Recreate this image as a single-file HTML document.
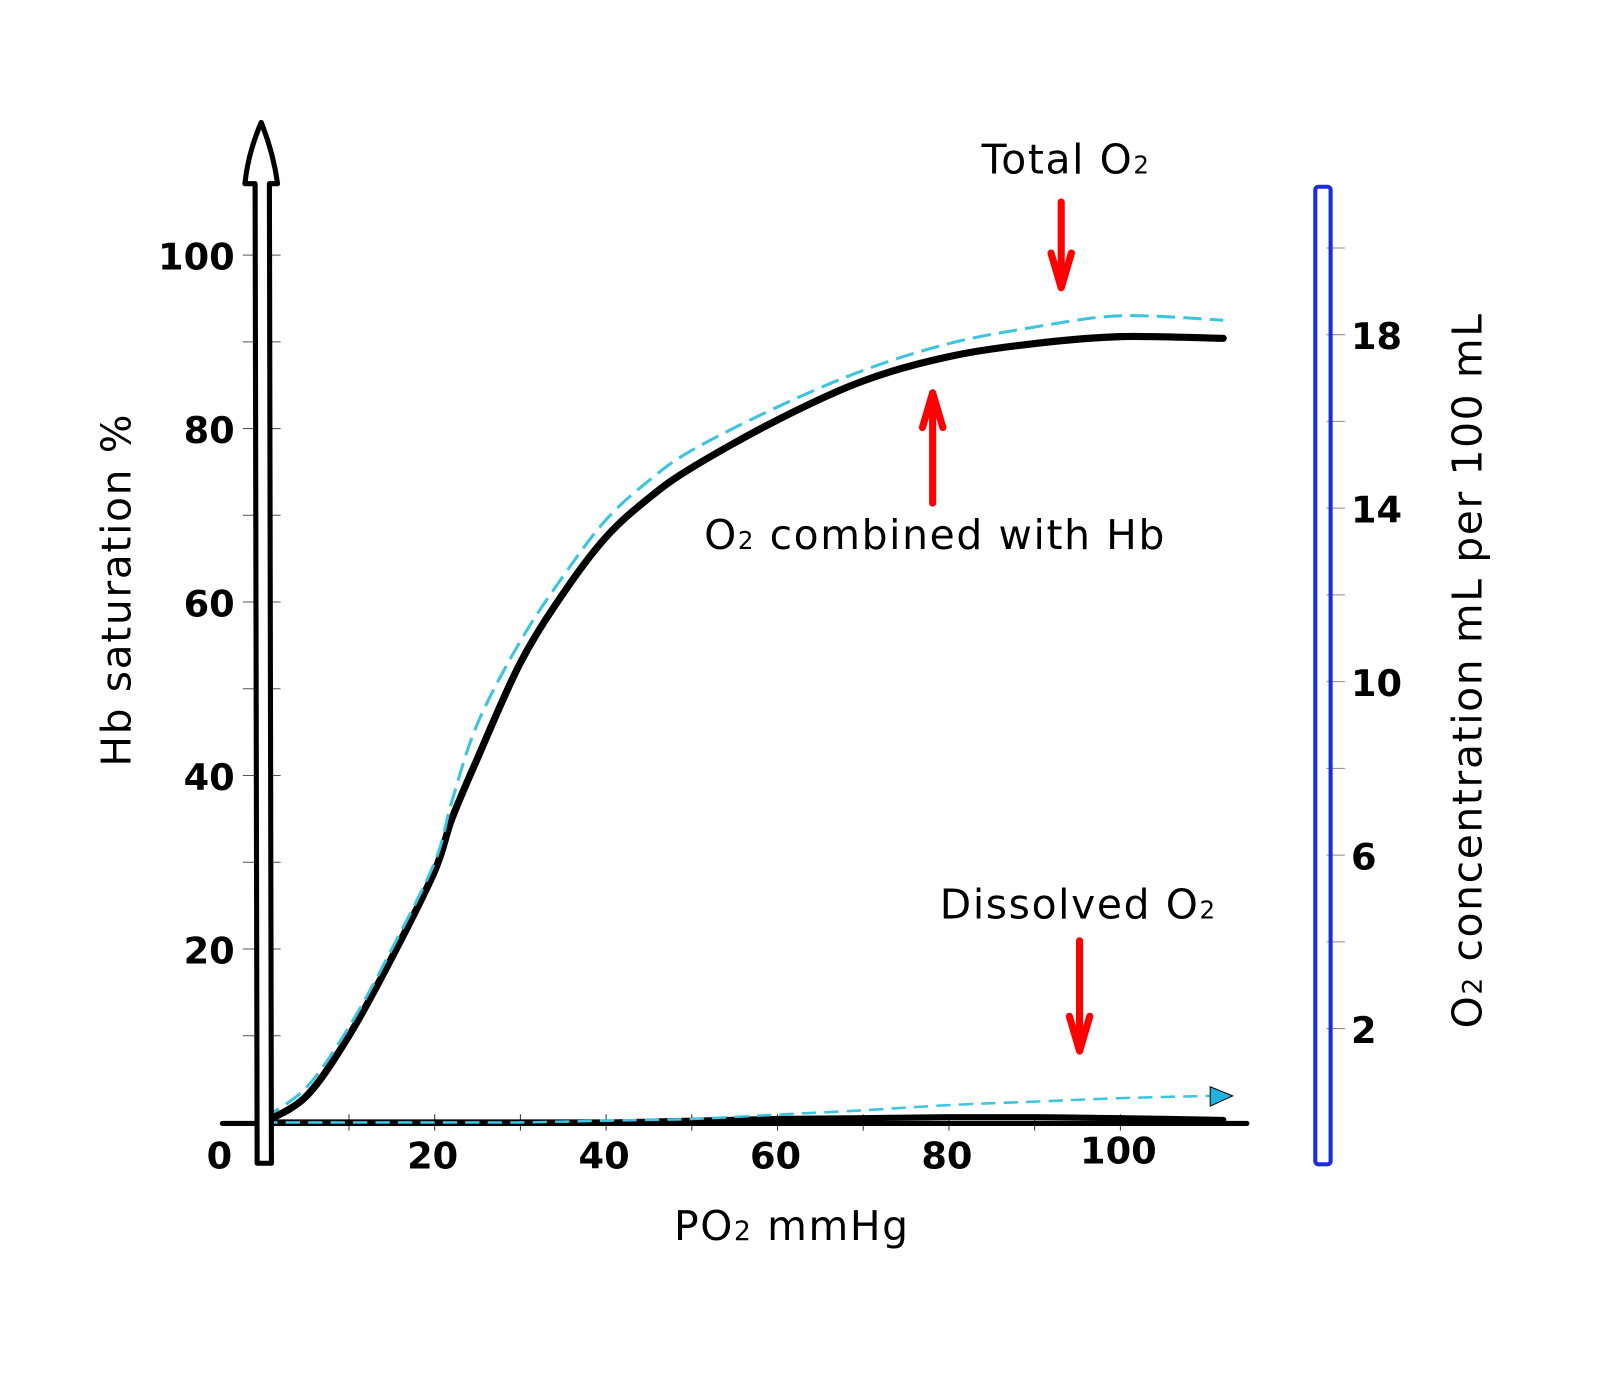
<!DOCTYPE html>
<html><head><meta charset="utf-8"><style>
html,body{margin:0;padding:0;background:#fff;}
svg text{font-family:"DejaVu Sans","Liberation Sans",sans-serif;}
.lbl{letter-spacing:1.6px;}
</style></head><body>
<script>
const po2 = [0,5,10,15,20,22,25,30,35,40,45,50,60,70,80,90,100,112];
const hbSat = [0,3,10,19,29,35,42,53,61,67.5,72,75.5,81,85.5,88.3,89.8,90.6,90.4];
const totalSat = [0.5,4,11,20,30,37,46,55.5,63,69.5,74,77.5,82.5,86.7,89.8,91.7,93,92.5];
const dissolved = [0,0,0,0,0,0,0,0,0,0,0.1,0.2,0.4,0.5,0.6,0.6,0.5,0.3];
const dissolvedTotal = [0,0,0,0,0,0,0,0,0.1,0.2,0.3,0.4,0.9,1.4,2,2.4,2.8,3.1];
const xTicks = [0,20,40,60,80,100];
const yTicks = [20,40,60,80,100];
const rTicks = [2,6,10,14,18];
</script>
<svg width="1600" height="1377" viewBox="0 0 1600 1377" xmlns="http://www.w3.org/2000/svg">
<g transform="scale(1.0204)">
<g id="g"></g>
<text class="lbl" x="962" y="170" font-size="40">Total O<tspan font-size="24">2</tspan></text>
<text class="lbl" x="690" y="538" font-size="40">O<tspan font-size="24">2</tspan> combined with Hb</text>
<text class="lbl" x="921" y="900" font-size="40">Dissolved O<tspan font-size="24">2</tspan></text>
<text class="lbl" x="776" y="1215" font-size="40" text-anchor="middle">PO<tspan font-size="26">2</tspan> mmHg</text>
<text class="lbl" transform="translate(128,578) rotate(-90)" font-size="40" text-anchor="middle">Hb saturation %</text>
<text class="lbl" transform="translate(1452,657) rotate(-90)" font-size="40" text-anchor="middle">O<tspan font-size="26">2</tspan> concentration mL per 100 mL</text>
</g>
</svg>
<script>
const NS='http://www.w3.org/2000/svg';
const g=document.getElementById('g');
const X=p=>258+8.4*p, Y=s=>1100-8.5*s, RY=c=>1093-42.5*c;
function mk(t,a,txt){const e=document.createElementNS(NS,t);for(const k in a)e.setAttribute(k,a[k]);if(txt!=null)e.textContent=txt;g.appendChild(e);return e;}
function line(arr,fn){
  const P=arr.map((v,i)=>[X(po2[i]),fn(v)]);
  let d='M'+P[0][0].toFixed(1)+','+P[0][1].toFixed(1);
  for(let i=0;i<P.length-1;i++){
    const p0=P[Math.max(i-1,0)],p1=P[i],p2=P[i+1],p3=P[Math.min(i+2,P.length-1)];
    const c1=[p1[0]+(p2[0]-p0[0])/6,p1[1]+(p2[1]-p0[1])/6];
    const c2=[p2[0]-(p3[0]-p1[0])/6,p2[1]-(p3[1]-p1[1])/6];
    d+=` C${c1[0].toFixed(1)},${c1[1].toFixed(1)} ${c2[0].toFixed(1)},${c2[1].toFixed(1)} ${p2[0].toFixed(1)},${p2[1].toFixed(1)}`;
  }
  return d;
}
for(let p=10;p<=100;p+=10){const e=mk('line',{x1:X(p),x2:X(p),y1:1092,y2:1108,stroke:'#333','stroke-width':1});

}
for(let s=10;s<=100;s+=10){const e=mk('line',{x1:238,x2:275,y1:Y(s),y2:Y(s),stroke:'#555','stroke-width':1});

}
for(let c=2;c<=20;c+=2){const e=mk('line',{x1:1300,x2:1318,y1:RY(c),y2:RY(c),stroke:'#889','stroke-width':1});

}
let e=mk('path',{d:'M218,1101 L1222,1101',stroke:'#000','stroke-width':5,fill:'none','stroke-linecap':'round'});


e=mk('path',{d:line(dissolved,Y),stroke:'#000','stroke-width':6,fill:'none','stroke-linecap':'round'});


e=mk('path',{d:line(dissolvedTotal,Y),stroke:'#3cc4e0','stroke-width':2.5,fill:'none','stroke-dasharray':'14 8'});


e=mk('path',{d:line(hbSat,Y),stroke:'#000','stroke-width':7,fill:'none','stroke-linecap':'round','stroke-linejoin':'round'});


e=mk('path',{d:line(totalSat,Y),stroke:'#3cc4e0','stroke-width':3,fill:'none','stroke-dasharray':'18 8'});


e=mk('path',{d:'M1186,1065 L1208,1074 L1186,1084 Z',fill:'#1eb4e0',stroke:'#000','stroke-width':1});


e=mk('path',{d:'M252,1140 L250,180 L240,180 Q243,150 256,120 Q268,150 272,180 L264,180 L266,1140 Z',fill:'#fff',stroke:'#000','stroke-width':5,'stroke-linejoin':'round'});


e=mk('rect',{x:1289,y:183,width:15,height:958,rx:3,fill:'none',stroke:'#1a2be0','stroke-width':4});


xTicks.forEach(p=>{const t=mk('text',{x:p===0?215:X(p)-2,y:p===100?1140:1145,'font-size':36,'font-weight':'bold','text-anchor':'middle'},p);

});
yTicks.forEach(s=>{const t=mk('text',{x:230,y:Y(s)+14,'font-size':36,'font-weight':'bold','text-anchor':'end'},s);

});
rTicks.forEach(c=>{const t=mk('text',{x:1324,y:RY(c)+14,'font-size':36,'font-weight':'bold'},c);

});
function red(x,y1,y2,name){const up=y2<y1;const h=up?-1:1;
const t=mk('path',{d:`M${x},${y1} L${x},${y2} M${x-10},${y2-34*h} L${x},${y2} L${x+10},${y2-34*h}`,stroke:'#ff0000','stroke-width':7,fill:'none','stroke-linecap':'round','stroke-linejoin':'round'});

}
red(1040,198,282,'total-o2-arrow');
red(914,493,385,'combined-arrow');
red(1058,922,1030,'dissolved-arrow');
</script>
</body></html>
